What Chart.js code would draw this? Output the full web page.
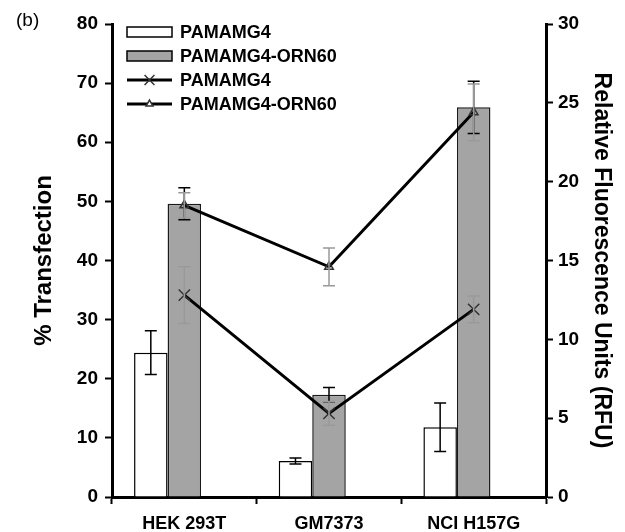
<!DOCTYPE html>
<html>
<head>
<meta charset="utf-8">
<script src="https://cdn.jsdelivr.net/npm/chart.js@4.4.1/dist/chart.umd.min.js"></script>
<style>
  html, body { margin: 0; padding: 0; background: #fff; }
</style>
</head>
<body>
<canvas id="chart" width="625" height="532"></canvas>
<script>
// data
const cellLines = ['HEK 293T', 'GM7373', 'NCI H157G'];
const seriesNames = ['PAMAMG4', 'PAMAMG4-ORN60'];

// % transfection (left axis, bars)
const transG4 = [24.4, 6.1, 11.8];
const transG4Err = [3.7, 0.5, 4.1];
const transOrn = [49.6, 17.3, 65.9];
const transOrnErr = [2.7, 1.2, 4.4];

// relative fluorescence units (right axis, lines)
const rfuG4 = [12.8, 5.3, 11.9];
const rfuG4Err = [1.8, 0.75, 0.85];
const rfuOrn = [18.5, 14.6, 24.4];
const rfuOrnErr = [0.8, 1.2, 1.8];

// axis ranges
const leftMax = 80, leftStep = 10;
const rightMax = 30, rightStep = 5;

const FONT = '"Liberation Sans", Arial, sans-serif';
Chart.defaults.font.family = FONT;
Chart.defaults.color = '#000';

// error bars drawn right after each dataset
const errorBars = {
    id: 'errorBars',
    afterDatasetDraw(chart, args) {
        const ds = chart.data.datasets[args.index];
        if (!ds.errors) return;
        const scale = chart.scales[ds.yAxisID];
        const ctx = chart.ctx;
        ctx.save();
        ctx.strokeStyle = ds.errorColor;
        ctx.lineWidth = ds.errorWidth;
        args.meta.data.forEach((el, i) => {
            const v = ds.data[i], e = ds.errors[i];
            if (v == null) return;
            const top = scale.getPixelForValue(v + e);
            const bot = scale.getPixelForValue(v - e);
            const x = el.x, w = 6;
            ctx.beginPath();
            ctx.moveTo(x, top); ctx.lineTo(x, bot);
            ctx.moveTo(x - w, top); ctx.lineTo(x + w, top);
            ctx.moveTo(x - w, bot); ctx.lineTo(x + w, bot);
            ctx.stroke();
        });
        ctx.restore();
    }
};

// legend in the top-left corner of the plot + panel letter
const cornerLegend = {
    id: 'cornerLegend',
    afterDraw(chart) {
        const ctx = chart.ctx;
        const x0 = 127, x1 = 172, tx = 180;
        let y = 32;
        ctx.save();
        ctx.textBaseline = 'middle';
        ctx.fillStyle = '#000';
        ctx.font = '19px ' + FONT;
        ctx.fillText('(b)', 16, 21);
        ctx.font = 'bold 18px ' + FONT;
        const sets = chart.data.datasets.filter(ds => ds.label);
        const bars = sets.filter(ds => ds.type !== 'line');
        const lines = sets.filter(ds => ds.type === 'line');
        bars.concat(lines).forEach(ds => {
            if (ds.type === 'line') {
                ctx.strokeStyle = '#000';
                ctx.lineWidth = 3;
                ctx.beginPath();
                ctx.moveTo(x0, y); ctx.lineTo(x1, y);
                ctx.stroke();
                ctx.strokeStyle = ds.pointBorderColor;
                ctx.fillStyle = '#fff';
                ctx.lineWidth = ds.pointBorderWidth;
                Chart.helpers.drawPoint(ctx, {
                    pointStyle: ds.pointStyle, radius: ds.pointRadius - 1,
                    borderWidth: ds.pointBorderWidth, rotation: 0
                }, (x0 + x1) / 2, y);
            } else {
                ctx.fillStyle = ds.backgroundColor;
                ctx.strokeStyle = '#000';
                ctx.lineWidth = 1.5;
                ctx.fillRect(x0, y - 5, x1 - x0, 10);
                ctx.strokeRect(x0, y - 5, x1 - x0, 10);
            }
            ctx.fillStyle = '#000';
            ctx.fillText(ds.label, tx, y + 1);
            y += 24;
        });
        ctx.restore();
    }
};

new Chart(document.getElementById('chart'), {
    type: 'bar',
    data: {
        labels: cellLines,
        datasets: [
            {
                type: 'line', label: seriesNames[0], data: rfuG4, yAxisID: 'y1', order: 0,
                borderColor: '#000', borderWidth: 3,
                pointStyle: 'crossRot', pointRadius: 8, pointBorderColor: '#333', pointBorderWidth: 1.5,
                errors: rfuG4Err, errorColor: '#999', errorWidth: 1.5
            },
            {
                type: 'line', label: seriesNames[1], data: rfuOrn, yAxisID: 'y1', order: 0,
                borderColor: '#000', borderWidth: 3,
                pointStyle: 'triangle', pointRadius: 5, pointBorderColor: '#333', pointBorderWidth: 1.5,
                pointBackgroundColor: 'rgba(255,255,255,0)',
                errors: rfuOrnErr, errorColor: '#999', errorWidth: 1.5
            },
            {
                label: seriesNames[0], data: transG4, yAxisID: 'y', order: 1,
                backgroundColor: '#ffffff', borderColor: '#000', borderWidth: 1.5,
                errors: transG4Err, errorColor: '#000', errorWidth: 1.5
            },
            {
                label: seriesNames[1], data: transOrn, yAxisID: 'y', order: 1,
                backgroundColor: '#a4a4a4', borderColor: '#1a1a1a', borderWidth: 1.5,
                errors: transOrnErr, errorColor: '#000', errorWidth: 1.5
            },
            // empty third slot, as in the original grouping
            { label: '', data: [null, null, null], yAxisID: 'y', order: 1 }
        ]
    },
    options: {
        responsive: false,
        animation: false,
        layout: { padding: { top: 24, right: 0, bottom: 0, left: 0 } },
        datasets: { bar: { categoryPercentage: 0.695, barPercentage: 1.0, borderSkipped: 'bottom' } },
        plugins: { legend: { display: false }, tooltip: { enabled: false } },
        scales: {
            x: {
                afterFit: s => { s.height = 35; },
                border: { color: '#000', width: 3 },
                grid: { offset: true, drawOnChartArea: false, tickLength: 7, tickColor: '#000', tickWidth: 2 },
                ticks: { font: { size: 18, weight: 'bold' }, padding: 9, maxRotation: 0 }
            },
            y: {
                position: 'left', min: 0, max: leftMax,
                afterFit: s => { s.width = 112; },
                border: { color: '#000', width: 3 },
                grid: { drawOnChartArea: false, tickLength: 7, tickColor: '#000', tickWidth: 2 },
                ticks: { stepSize: leftStep, font: { size: 19, weight: 'bold' }, padding: 7 },
                title: { display: true, text: '% Transfection', font: { size: 24, weight: 'bold' }, padding: { top: 30, bottom: 0 } }
            },
            y1: {
                position: 'right', min: 0, max: rightMax,
                afterFit: s => { s.width = 79; },
                border: { color: '#000', width: 3 },
                grid: { drawOnChartArea: false, tickLength: 7, tickColor: '#000', tickWidth: 2 },
                ticks: { stepSize: rightStep, font: { size: 19, weight: 'bold' }, padding: 5 },
                title: { display: true, text: 'Relative Fluorescence Units (RFU)', font: { size: 23, weight: 'bold' }, padding: { top: 10, bottom: 0 } }
            }
        }
    },
    plugins: [errorBars, cornerLegend]
});
</script>
</body>
</html>
